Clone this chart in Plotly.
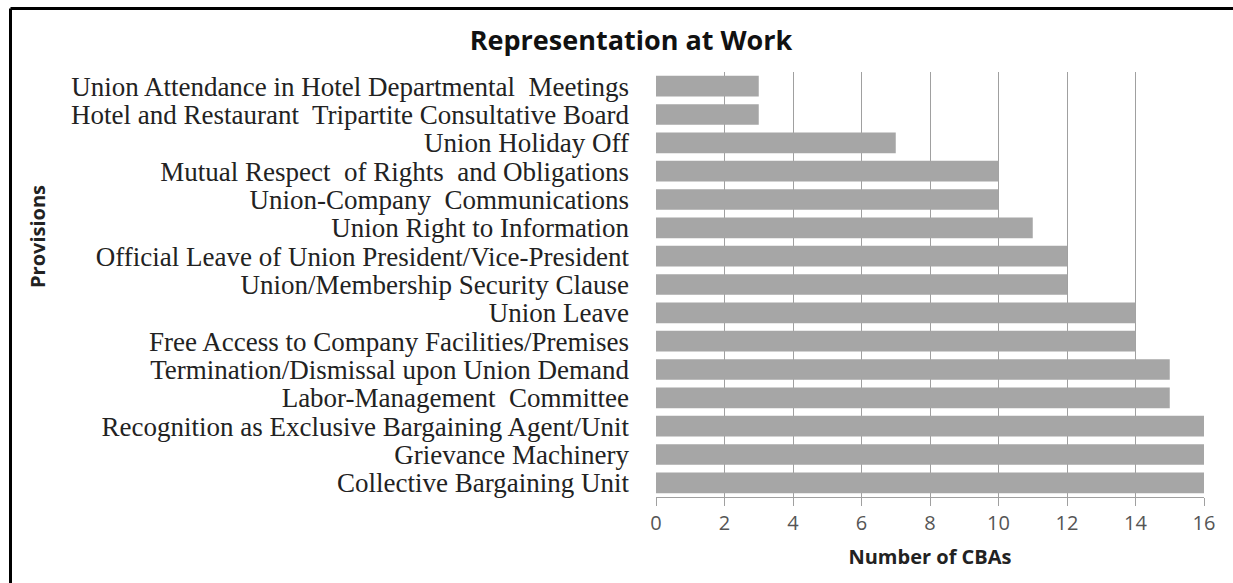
import plotly.graph_objects as go

# Provisions listed top to bottom, with the number of CBAs containing each
provisions = [
    "Union Attendance in Hotel Departmental  Meetings",
    "Hotel and Restaurant  Tripartite Consultative Board",
    "Union Holiday Off",
    "Mutual Respect  of Rights  and Obligations",
    "Union-Company  Communications",
    "Union Right to Information",
    "Official Leave of Union President/Vice-President",
    "Union/Membership Security Clause",
    "Union Leave",
    "Free Access to Company Facilities/Premises",
    "Termination/Dismissal upon Union Demand",
    "Labor-Management  Committee",
    "Recognition as Exclusive Bargaining Agent/Unit",
    "Grievance Machinery",
    "Collective Bargaining Unit",
]
cba_counts = [3, 3, 7, 10, 10, 11, 12, 12, 14, 14, 15, 15, 16, 16, 16]
x_ticks = [0, 2, 4, 6, 8, 10, 12, 14, 16]

W, H = 1233, 583
L, R, T, B = 656, 29, 72, 86
pw, ph = W - L - R, H - T - B

fig = go.Figure(
    go.Bar(
        x=cba_counts,
        y=provisions,
        orientation="h",
        marker=dict(color="#a6a6a6", line=dict(width=0)),
        hoverinfo="x+y",
    )
)

fig.update_layout(
    width=W,
    height=H,
    margin=dict(l=L, r=R, t=T, b=B),
    paper_bgcolor="white",
    plot_bgcolor="white",
    bargap=0.27,
    showlegend=False,
    title=dict(
        text="<b>Representation at Work</b>",
        x=631 / W,
        xref="container",
        xanchor="center",
        y=1 - 41 / H,
        yref="container",
        yanchor="middle",
        font=dict(family="Open Sans", size=27, color="#111111"),
    ),
    xaxis=dict(
        range=[0, 16],
        tickvals=x_ticks,
        showgrid=True,
        gridcolor="#a0a0a0",
        gridwidth=1,
        zeroline=False,
        showline=True,
        linecolor="#a0a0a0",
        linewidth=1,
        ticks="outside",
        ticklen=8,
        tickcolor="#a0a0a0",
        tickfont=dict(family="Open Sans", size=20, color="#555555"),
        title=dict(
            text="<b>Number of CBAs</b>",
            font=dict(family="Open Sans", size=20, color="#222222"),
            standoff=14,
        ),
    ),
    yaxis=dict(
        categoryorder="array",
        categoryarray=provisions[::-1],
        tickmode="array",
        tickvals=provisions,
        ticktext=provisions,
        showgrid=False,
        showline=False,
        ticks="",
        ticklabelstandoff=26,
        tickfont=dict(family="Liberation Serif", size=27, color="#222222"),
    ),
    annotations=[
        dict(
            text="<b>Provisions</b>",
            textangle=-90,
            x=(38 - L) / pw,
            y=(H - B - 237) / ph,
            xref="paper",
            yref="paper",
            xanchor="center",
            yanchor="middle",
            showarrow=False,
            font=dict(family="Open Sans", size=20, color="#222222"),
        )
    ],
    shapes=[
        # frame lines along the top and left edges
        dict(type="line", xref="paper", yref="paper",
             x0=(10.5 - L) / pw, x1=(W - L) / pw,
             y0=(H - B - 8.5) / ph, y1=(H - B - 8.5) / ph,
             line=dict(color="black", width=3)),
        dict(type="line", xref="paper", yref="paper",
             x0=(10.5 - L) / pw, x1=(10.5 - L) / pw,
             y0=(H - B - 8.5) / ph, y1=(-B) / ph,
             line=dict(color="black", width=3)),
    ],
)

fig.write_html("out.html")
